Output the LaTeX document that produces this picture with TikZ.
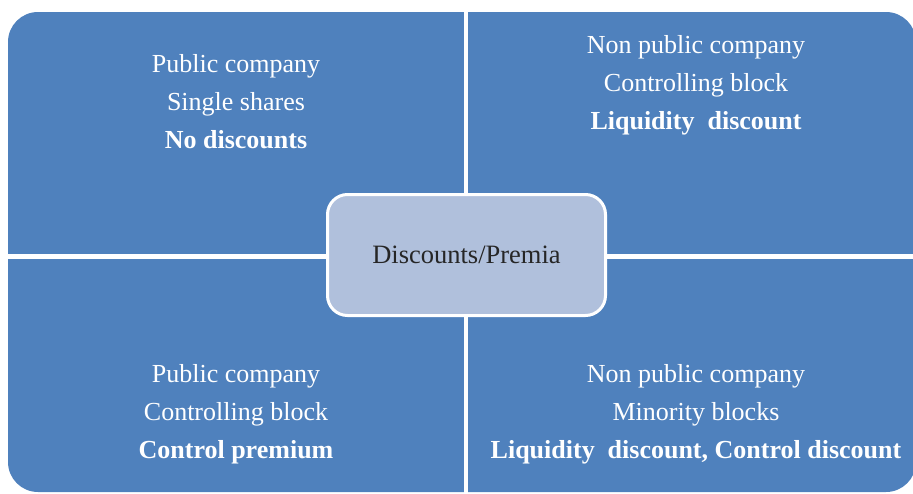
\documentclass[tikz,border=0pt]{standalone}
\usepackage{fontspec}
\setmainfont{Liberation Serif}
\definecolor{quadblue}{HTML}{4F81BD}
\definecolor{centerfill}{HTML}{B0C0DC}
\begin{document}
\begin{tikzpicture}[x=1pt,y=-1pt,
  quadtext/.style={text=white,align=center,font=\fontsize{26}{38}\selectfont},
  centerbox/.style={draw=white,line width=3pt,fill=centerfill,rounded corners=20pt,minimum width=278pt,minimum height=121pt,font=\fontsize{26.5}{30}\selectfont,text=black!85}]
\useasboundingbox (0,0) rectangle (913,493);
\fill[quadblue,rounded corners=30pt] (8,12) rectangle (916,492);
\fill[white] (464,0) rectangle (468,493);
\fill[white] (0,254) rectangle (913,258.5);
\node[quadtext] (tl) at (236,102) {Public company\\Single shares\\\textbf{No discounts}};
\node[quadtext] (tr) at (696,85) {Non public company\\Controlling block\\\textbf{Liquidity\ \ discount}};
\node[quadtext] (bl) at (236,414) {Public company\\Controlling block\\\textbf{Control premium}};
\node[quadtext] (br) at (696,414) {Non public company\\Minority blocks\\\textbf{Liquidity\ \ discount, Control discount}};
\node[centerbox] (center) at (466.5,255) {Discounts/Premia};
\end{tikzpicture}
\end{document}
